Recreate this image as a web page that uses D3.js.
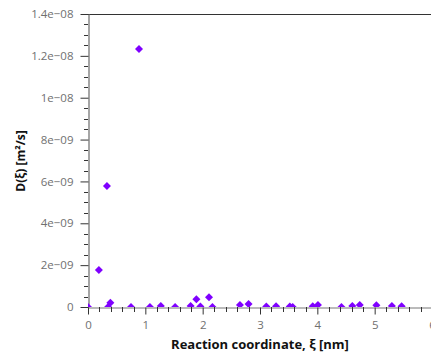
<!DOCTYPE html>
<html>
<head>
<meta charset="utf-8">
<script src="https://cdn.jsdelivr.net/npm/d3@7"></script>
<style>
  html, body { margin: 0; padding: 0; background: #fff; }
  svg { display: block; }
</style>
</head>
<body>
<script>
// Diffusion coefficient along the reaction coordinate
const xi = [0.0, 0.19, 0.33, 0.35, 0.39, 0.75, 0.89, 1.08, 1.27, 1.52, 1.79, 1.89, 1.96,
            2.11, 2.17, 2.65, 2.80, 3.11, 3.28, 3.52, 3.57, 3.92, 4.01, 4.42, 4.61, 4.74,
            5.03, 5.30, 5.47];
const diff = [0, 1.77e-9, 5.78e-9, 0, 0.2e-9, 0, 12.33e-9, 0, 0.05e-9, 0, 0.05e-9, 0.37e-9, 0.02e-9,
              0.46e-9, 0, 0.1e-9, 0.14e-9, 0.02e-9, 0.03e-9, 0.02e-9, 0, 0.03e-9, 0.1e-9, 0, 0.05e-9, 0.1e-9,
              0.08e-9, 0.05e-9, 0.03e-9];
const yTicks = [0, 2e-9, 4e-9, 6e-9, 8e-9, 1e-8, 1.2e-8, 1.4e-8];
const yTickLabels = ["0", "2e\u221209", "4e\u221209", "6e\u221209", "8e\u221209", "1e\u221208", "1.2e\u221208", "1.4e\u221208"];
const xTicks = [0, 1, 2, 3, 4, 5, 6];

(function () {
const W = 431, H = 354;
const mLeft = 88, mRight = 432, mTop = 14, mBottom = 307;

const x = d3.scaleLinear().domain([0, 6]).range([mLeft, mRight]);
const y = d3.scaleLinear().domain([0, 1.4e-8]).range([mBottom, mTop]);

const svg = d3.select("body").append("svg").attr("width", W).attr("height", H);

svg.append("defs").append("clipPath").attr("id", "plot-clip")
  .append("rect").attr("x", mLeft).attr("y", mTop).attr("width", mRight - mLeft).attr("height", mBottom - mTop);

const font = "'Open Sans', 'DejaVu Sans', sans-serif";

// top frame line
svg.append("line").attr("x1", mLeft).attr("x2", W).attr("y1", mTop + 0.5).attr("y2", mTop + 0.5)
  .attr("stroke", "#333").attr("stroke-width", 1);

// y axis
const yMinor = d3.range(0, 1.4e-8 + 1e-12, 0.5e-9).filter(v => !yTicks.some(t => Math.abs(t - v) < 1e-12));
const yAxis = svg.append("g").attr("transform", `translate(${mLeft + 0.5},0)`)
  .call(d3.axisLeft(y).tickValues(yTicks).tickFormat((d, i) => yTickLabels[i]).tickSize(8).tickSizeOuter(0).tickPadding(7));
yAxis.select(".domain").attr("stroke", "#888").attr("stroke-width", 1.5);
yAxis.selectAll(".tick line").attr("stroke", "#333");
yAxis.selectAll(".tick text").attr("fill", "#707070").style("font-family", font).style("font-size", "11.5px");
svg.append("g").selectAll("line").data(yMinor).join("line")
  .attr("x1", mLeft - 4).attr("x2", mLeft)
  .attr("y1", d => Math.round(y(d)) + 0.5).attr("y2", d => Math.round(y(d)) + 0.5)
  .attr("stroke", "#333");

// x axis
const xMinor = d3.range(0, 6.001, 0.2).filter(v => Math.abs(v - Math.round(v)) > 1e-6);
const xAxis = svg.append("g").attr("transform", `translate(0,${mBottom + 0.5})`)
  .call(d3.axisBottom(x).tickValues(xTicks).tickFormat(d3.format("d")).tickSize(7).tickSizeOuter(0).tickPadding(6));
xAxis.select(".domain").attr("stroke", "#777");
xAxis.selectAll(".tick line").attr("stroke", "#333");
xAxis.selectAll(".tick text").attr("fill", "#707070").style("font-family", font).style("font-size", "11.5px");
svg.append("g").selectAll("line").data(xMinor).join("line")
  .attr("x1", d => Math.round(x(d)) + 0.5).attr("x2", d => Math.round(x(d)) + 0.5)
  .attr("y1", mBottom).attr("y2", mBottom + 5)
  .attr("stroke", "#333");

// points
const pts = xi.map((v, i) => ({ x: v, y: diff[i] }));
const r = 4;
svg.append("g").attr("clip-path", "url(#plot-clip)")
  .selectAll("path").data(pts).join("path")
  .attr("transform", d => `translate(${x(d.x)},${y(d.y)})`)
  .attr("d", `M0,${-r}L${r},0L0,${r}L${-r},0Z`)
  .attr("fill", "#7f00ff");

// axis titles
svg.append("text").attr("x", 260).attr("y", 349)
  .attr("text-anchor", "middle").attr("fill", "#111")
  .style("font-family", font).style("font-size", "13px").style("font-weight", "bold")
  .text("Reaction coordinate, \u03be [nm]");
svg.append("text").attr("transform", `translate(25,161) rotate(-90)`)
  .attr("text-anchor", "middle").attr("fill", "#111")
  .style("font-family", font).style("font-size", "12px").style("font-weight", "bold")
  .text("D(\u03be) [m\u00b2/s]");
})();
</script>
</body>
</html>
